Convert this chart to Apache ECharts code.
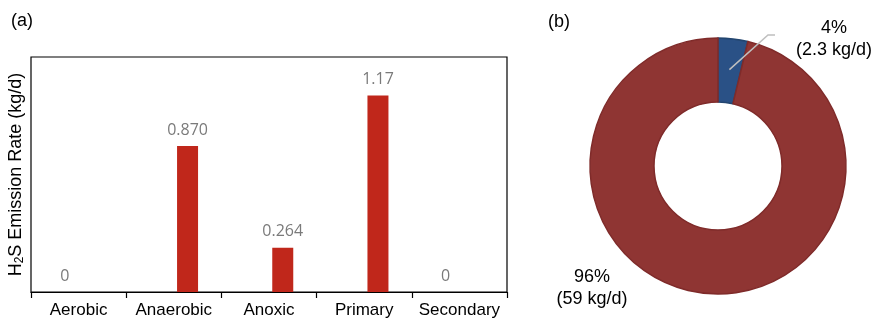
<!DOCTYPE html>
<html>
<head>
<meta charset="utf-8">
<script src="https://cdn.jsdelivr.net/npm/echarts@6/dist/echarts.min.js"></script>
<style>
  html, body { margin: 0; padding: 0; background: #fff; }
  #chart { width: 880px; height: 323px; }
</style>
</head>
<body>
<div id="chart"></div>
<script>
// Panel (a): H2S emission rate per process zone
const categories = ['Aerobic', 'Anaerobic', 'Anoxic', 'Primary', 'Secondary'];
// zero-valued zones sit in the left slot, emitting zones in the right slot
const zeroSeries = [0, null, null, null, 0];
const zeroLabels = ['0', '', '', '', '0'];
const emitSeries = [null, 0.870, 0.264, 1.17, null];
const emitLabels = ['', '0.870', '0.264', '1.17', ''];

// Panel (b): share of total emission
const pieNames = ['Minor', 'Major'];
const pieValues = [2.3, 59];
const pieLabels = ['4%\n(2.3 kg/d)', '96%\n(59 kg/d)'];

const chart = echarts.init(document.getElementById('chart'), null, { renderer: 'canvas' });

const pieCenter = [718, 166];
const pieRadius = [64, 128];
const FONT = 'Liberation Sans, Arial, sans-serif';

// leader line for the small slice: starts mid-ring at the slice's mid-angle
const total = pieValues.reduce((a, b) => a + b, 0);
const midAngle = Math.PI / 2 - (pieValues[0] / total) * Math.PI; // radians, from +x, counter-clockwise
const midR = (pieRadius[0] + pieRadius[1]) / 2 + 1;
const leadStart = [pieCenter[0] + midR * Math.cos(midAngle), pieCenter[1] - midR * Math.sin(midAngle)];

const valueLabel = (labels) => ({
  show: true,
  position: 'top',
  distance: 8,
  color: '#7a7a7a',
  fontFamily: 'Open Sans, sans-serif',
  fontSize: 16,
  formatter: (p) => labels[p.dataIndex]
});

chart.setOption({
  animation: false,
  backgroundColor: '#fff',
  textStyle: { fontFamily: FONT },
  graphic: [
    { type: 'text', left: 11, top: 12, style: { text: '(a)', font: '18px ' + FONT, fill: '#000' } },
    { type: 'text', left: 548, top: 13, style: { text: '(b)', font: '18px ' + FONT, fill: '#000' } },
    {
      type: 'polyline', z: 100,
      shape: { points: [leadStart, [768, 35], [775, 35]] },
      style: { stroke: '#bfbfbf', lineWidth: 1.5, fill: null }
    }
  ],
  grid: {
    left: 31, right: 373, top: 57, bottom: 31,
    containLabel: false,
    outerBoundsMode: 'none',
    show: true, borderColor: '#000', borderWidth: 1.2, backgroundColor: 'transparent'
  },
  xAxis: {
    type: 'category',
    data: categories,
    axisLine: { lineStyle: { color: '#000', width: 1.2 } },
    axisTick: { show: true, alignWithLabel: false, length: 6, lineStyle: { color: '#000', width: 1.2 } },
    axisLabel: { color: '#000', fontSize: 17, fontFamily: FONT, margin: 10, interval: 0, hideOverlap: false }
  },
  yAxis: {
    type: 'value',
    min: 0,
    max: 1.4,
    axisLabel: { show: false },
    axisTick: { show: false },
    axisLine: { show: false },
    splitLine: { show: false },
    name: '{a|H}{s|2}{a|S Emission Rate (kg/d)}',
    nameLocation: 'middle',
    nameRotate: 90,
    nameGap: 5,
    nameTextStyle: {
      rich: {
        a: { fontSize: 18, color: '#000', fontFamily: FONT },
        s: { fontSize: 12, color: '#000', fontFamily: FONT, verticalAlign: 'bottom', padding: [7, 0, 0, 0] }
      }
    }
  },
  series: [
    {
      type: 'bar',
      data: zeroSeries,
      barWidth: 21,
      barGap: '31%',
      itemStyle: { color: '#c0271b' },
      label: valueLabel(zeroLabels)
    },
    {
      type: 'bar',
      data: emitSeries,
      barWidth: 21,
      itemStyle: { color: '#c0271b' },
      label: valueLabel(emitLabels)
    },
    {
      type: 'pie',
      center: pieCenter,
      radius: pieRadius,
      startAngle: 90,
      clockwise: true,
      avoidLabelOverlap: false,
      data: pieNames.map((n, i) => ({
        name: n,
        value: pieValues[i],
        itemStyle: {
          color: i === 0 ? '#2a5186' : '#8f3533',
          borderColor: i === 0 ? '#234670' : '#7f2b2a',
          borderWidth: 1.5
        }
      })),
      label: {
        show: true,
        position: 'outside',
        formatter: (p) => pieLabels[p.dataIndex],
        color: '#000',
        fontSize: 18,
        fontFamily: FONT,
        lineHeight: 22,
        align: 'center'
      },
      labelLine: { show: false },
      labelLayout: (params) => {
        if (params.dataIndex === 0) {
          return { x: 834, y: 39, align: 'center', verticalAlign: 'middle' };
        }
        return { x: 592, y: 288, align: 'center', verticalAlign: 'middle' };
      },
      emphasis: { disabled: true }
    }
  ]
});
</script>
</body>
</html>
